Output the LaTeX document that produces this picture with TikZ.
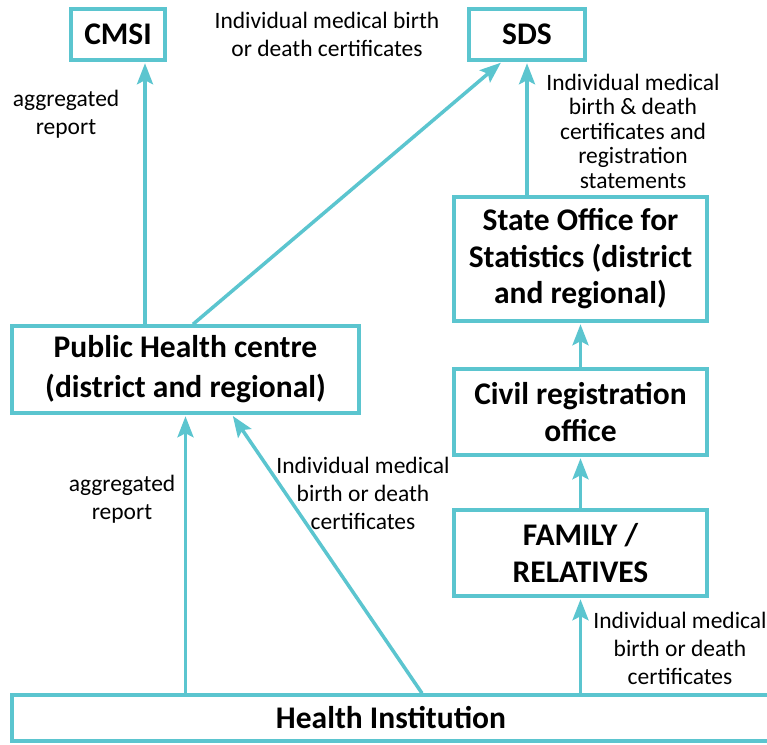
\documentclass[tikz,border=0pt]{standalone}
\usepackage{fontspec}
\setmainfont{Carlito}
\usetikzlibrary{arrows.meta}
\definecolor{teal1}{RGB}{91,197,207}
\tikzset{
  box/.style={draw=teal1, line width=3.5pt, fill=white, align=center, inner sep=0pt,
    font=\fontsize{31.5}{36.5}\selectfont\bfseries},
  lbl/.style={align=center, inner sep=0pt, font=\fontsize{23.5}{28}\selectfont},
  arr/.style={draw=teal1, line width=3.5pt, -{Stealth[length=21pt,width=16pt,inset=4pt]}, shorten >=1.5pt}
}
\begin{document}
\begin{tikzpicture}[x=1pt,y=-1pt]
\useasboundingbox (0,0) rectangle (767,744);
\clip (0,0) rectangle (767,744);
\node[box, minimum width=94pt, minimum height=51pt] (cmsi) at (118,34.5) {CMSI};
\node[box, minimum width=116pt, minimum height=51pt] (sds) at (527,34.5) {SDS};
\node[box, minimum width=253pt, minimum height=124pt] (so) at (580.5,259) {State Office for\\Statistics (district\\and regional)};
\node[box, minimum width=347pt, minimum height=87pt, font=\fontsize{31.5}{40}\selectfont\bfseries] (ph) at (185.5,369.5) {Public Health centre\\(district and regional)};
\node[box, minimum width=253pt, minimum height=86pt] (civ) at (580.5,412) {Civil registration\\office};
\node[box, minimum width=253pt, minimum height=86pt] (fam) at (580.5,553) {FAMILY /\\RELATIVES};
\node[box, minimum width=758pt, minimum height=46pt] (hi) at (391,718) {Health Institution};

\draw[arr] ([xshift=-40.5pt]ph.north) -- ([xshift=27pt]cmsi.south);
\draw[arr] ([xshift=7.5pt]ph.north) -- ([xshift=-25pt]sds.south);
\draw[arr] (so.north -| sds.south) -- (sds.south);
\draw[arr] (civ.north) -- (so.south);
\draw[arr] (fam.north) -- (civ.south);
\draw[arr] (hi.north -| fam.south) -- (fam.south);
\draw[arr] (hi.north -| ph.south) -- (ph.south);
\draw[arr] ([xshift=31pt]hi.north) -- ([xshift=46.5pt]ph.south);

\node[lbl] (l1) at (66,114) {aggregated\\report};
\node[lbl] (l2) at (327,34.5) {Individual medical birth\\or death certificates};
\node[lbl, font=\fontsize{23.5}{24.5}\selectfont] (l3) at (633,131) {Individual medical\\birth \& death\\certificates and\\registration\\statements};
\node[lbl] (l4) at (122,499.5) {aggregated\\report};
\node[lbl] (l5) at (363,493.5) {Individual medical\\birth or death\\certificates};
\node[lbl] (l6) at (680,648.5) {Individual medical\\birth or death\\certificates};
\end{tikzpicture}
\end{document}
